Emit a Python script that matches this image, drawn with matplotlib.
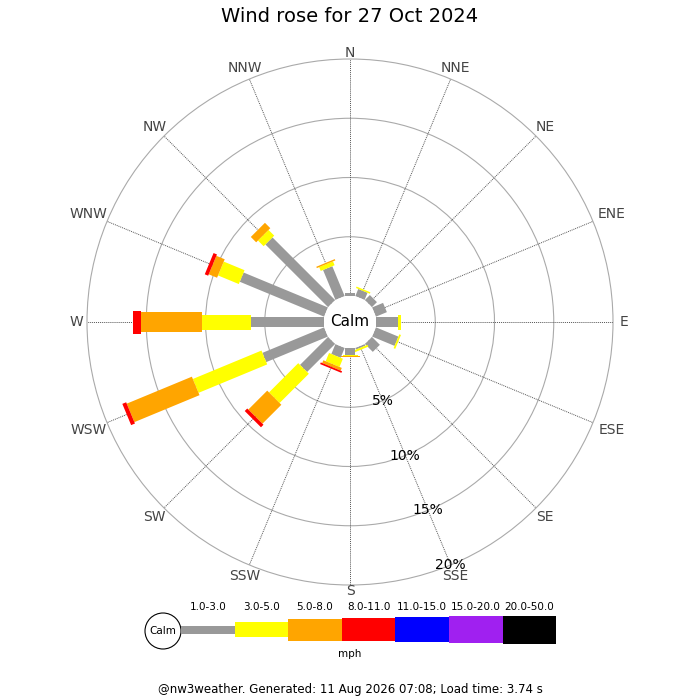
import numpy as np
import matplotlib
matplotlib.use("Agg")
import matplotlib.pyplot as plt
from matplotlib.patches import Polygon, Circle, Rectangle

# wind rose data for 27 Oct 2024 (percent of time, per speed band)
directions = ["N", "NNE", "NE", "ENE", "E", "ESE", "SE", "SSE",
              "S", "SSW", "SW", "WSW", "W", "WNW", "NW", "NNW"]
band_1_3 = [0.25, 0.65, 0.6, 1.0, 1.88, 2.05, 0.95, 0.15,
            0.62, 0.9, 3.35, 5.63, 6.19, 7.7, 7.48, 2.73]
band_3_5 = [0, 0.13, 0, 0, 0.22, 0.15, 0, 0.17,
            0.03, 0.75, 3.49, 6.27, 4.11, 1.9, 0.68, 0.35]
band_5_8 = [0, 0, 0, 0, 0, 0, 0, 0,
            0.15, 0.25, 2.26, 5.95, 5.17, 0.76, 0.64, 0.12]
band_8_11 = [0, 0, 0, 0, 0, 0, 0, 0,
             0, 0.15, 0.3, 0.35, 0.63, 0.31, 0, 0]
band_labels = ["1.0-3.0", "3.0-5.0", "5.0-8.0", "8.0-11.0",
               "11.0-15.0", "15.0-20.0", "20.0-50.0"]
band_colors = ["#999999", "#ffff00", "#ffa500", "#ff0000",
               "#0000ff", "#a020f0", "#000000"]
ring_pcts = [5, 10, 15, 20]

title = "Wind rose for 27 Oct 2024"
footer = "@nw3weather. Generated: 11 Aug 2026 07:08; Load time: 3.74 s"

# layout (pixels)
W, H = 700, 700
cx, cy = 350, 322
px = 11.85              # pixels per percent
calm_r = 26 / px        # calm circle radius in percent units
band_w = np.array([10, 15, 20, 23, 25, 27, 29]) / px

fig = plt.figure(figsize=(7, 7), dpi=100)
ax = fig.add_axes([0, 0, 1, 1])
ax.set_xlim(-cx / px, (W - cx) / px)
ax.set_ylim(-(H - cy) / px, cy / px)
ax.axis("off")

outer = calm_r + ring_pcts[-1]

# rings
for p in ring_pcts:
    ax.add_patch(Circle((0, 0), calm_r + p, fill=False, ec="#aaaaaa", lw=0.8, zorder=1))

# spokes and compass labels
for i, d in enumerate(directions):
    th = np.radians(i * 22.5)
    ux, uy = np.sin(th), np.cos(th)
    ax.plot([calm_r * ux, outer * ux], [calm_r * uy, outer * uy],
            ls=(0, (1, 1)), color="#555555", lw=0.7, zorder=1)
    r_lab = (269 + abs(ux) * 5 * len(d)) / px
    ax.text(r_lab * ux, r_lab * uy, d, ha="center", va="center",
            fontsize=10, color="#444444")

# percent labels along SSE spoke
th = np.radians(157.5)
for p in ring_pcts:
    r = calm_r + p
    ax.text(r * np.sin(th), r * np.cos(th), f"{p}%", ha="center", va="center",
            fontsize=10, color="black", zorder=4)

# bars
bands = [band_1_3, band_3_5, band_5_8, band_8_11]
for i in range(len(directions)):
    th = np.radians(i * 22.5)
    u = np.array([np.sin(th), np.cos(th)])
    perp = np.array([np.cos(th), -np.sin(th)])
    r0 = calm_r
    for b, vals in enumerate(bands):
        v = vals[i]
        if v <= 0:
            continue
        r1 = r0 + v
        hw = band_w[b] / 2
        pts = [r0 * u + hw * perp, r1 * u + hw * perp,
               r1 * u - hw * perp, r0 * u - hw * perp]
        ax.add_patch(Polygon(pts, closed=True, fc=band_colors[b], ec="none", zorder=2))
        r0 = r1

# calm circle
ax.add_patch(Circle((0, 0), calm_r, fc="white", ec="none", zorder=3))
ax.text(0, 0, "Calm", ha="center", va="center", fontsize=11, zorder=4)

# legend in pixel coordinates
leg = fig.add_axes([0, 0, 1, 1])
leg.set_xlim(0, W)
leg.set_ylim(H, 0)
leg.axis("off")
leg.add_patch(Circle((163, 631), 18, fc="white", ec="black", lw=0.8))
leg.text(163, 631, "Calm", ha="center", va="center", fontsize=7.5)
seg_w = 53.6
for b, (lab, col) in enumerate(zip(band_labels, band_colors)):
    x0 = 181 + b * seg_w
    hgt = [8, 15, 22, 23, 25, 27, 28][b]
    leg.add_patch(Rectangle((x0, 629.5 - hgt / 2), seg_w, hgt, fc=col, ec="none"))
    leg.text(x0 + seg_w / 2, 607, lab, ha="center", va="center", fontsize=7.5)
leg.text(350, 654, "mph", ha="center", va="center", fontsize=7.5)

fig.text(0.5, 1 - 17 / H, title, ha="center", va="center", fontsize=14)
fig.text(0.5, 1 - 690 / H, footer, ha="center", va="center", fontsize=8.5)

fig.savefig("out.png", dpi=100)
